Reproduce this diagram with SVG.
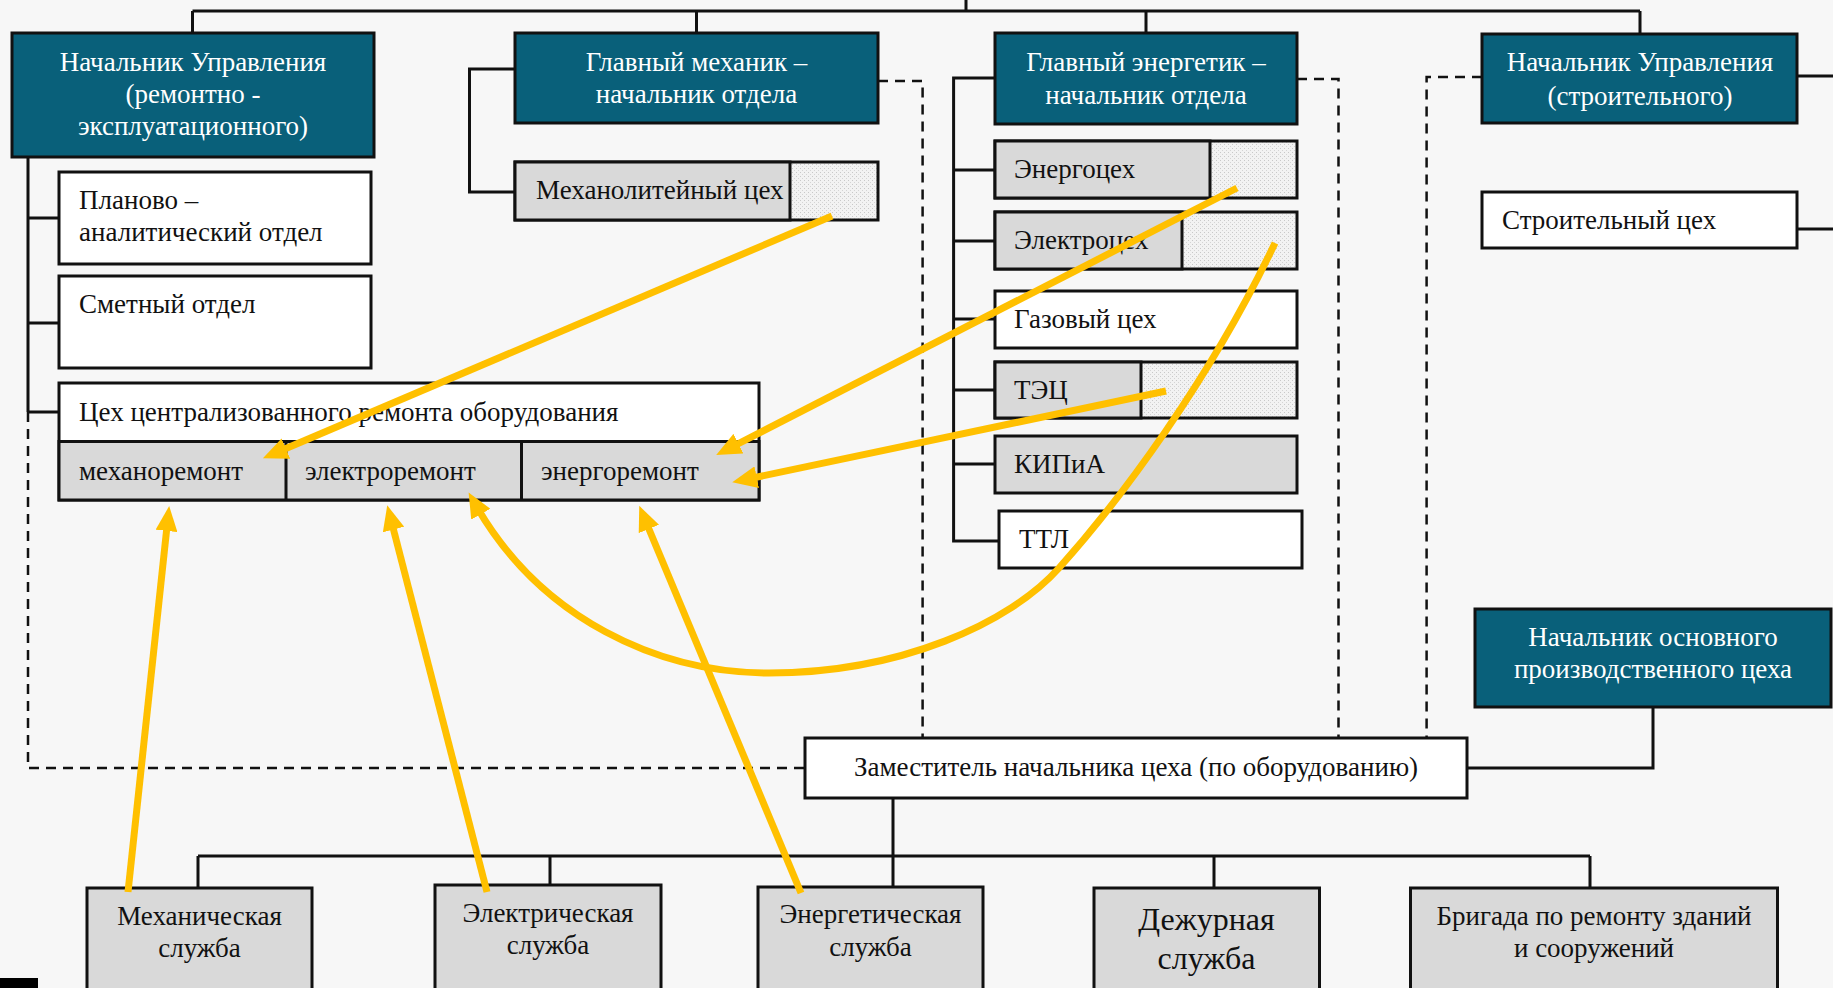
<svg xmlns="http://www.w3.org/2000/svg" width="1833" height="988" viewBox="0 0 1833 988">
<defs>
<style>
.ln{stroke:#111;stroke-width:3;fill:none}
.ds{stroke:#111;stroke-width:2.5;fill:none;stroke-dasharray:10 7}
.teal{fill:#09607A;stroke:#111;stroke-width:3}
.wh{fill:#fff;stroke:#111;stroke-width:3}
.gr{fill:#D9D9D9;stroke:#111;stroke-width:3}
.ht{fill:url(#hatch);stroke:#111;stroke-width:3}
.t{font-family:"Liberation Serif","Times New Roman",serif;font-size:27px;fill:#111}
.tw{font-family:"Liberation Serif","Times New Roman",serif;font-size:27px;fill:#fff;text-anchor:middle}
.tc{text-anchor:middle}
.ya{stroke:#FFC000;stroke-width:7;fill:none;marker-end:url(#ah)}
</style>
<pattern id="hatch" width="4" height="4" patternUnits="userSpaceOnUse">
<rect width="4" height="4" fill="#F2F2F2"/>
<rect x="0" y="0" width="1" height="1" fill="#C8C8C8"/>
<rect x="2" y="2" width="1" height="1" fill="#D4D4D4"/>
</pattern>
<marker id="ah" markerUnits="userSpaceOnUse" markerWidth="26" markerHeight="22" viewBox="0 0 26 22" refX="14" refY="11" orient="auto">
<path d="M0,0 L25,11 L0,22 z" fill="#FFC000"/>
</marker>
</defs>
<rect width="1833" height="988" fill="#F7F7F7"/>

<g id="connectors">
<path class="ln" d="M966,0 V11 M192.5,11 H1640 M192.5,11 V33 M696.5,11 V33 M1146,11 V33 M1640,11 V34"/>
<path class="ln" d="M28,157 V412 M28,218 H59 M28,323 H59 M28,412 H59"/>
<path class="ds" d="M28,412 V768 H805"/>
<path class="ln" d="M515,69 H469.5 V192 H515"/>
<path class="ds" d="M878,81 H922.6 V738"/>
<path class="ln" d="M995,78 H953.6 V541 H999 M953.6,170 H995 M953.6,241 H995 M953.6,319 H995 M953.6,390 H995 M953.6,464 H995"/>
<path class="ds" d="M1297,79 H1338.5 V738"/>
<path class="ds" d="M1482,77 H1426.6 V738"/>
<path class="ln" d="M1797,76 H1833 M1797,229 H1833"/>
<path class="ln" d="M1653,707 V768 H1467"/>
<path class="ln" d="M893,798 V887 M198,856 H1590 M198,856 V888 M550,856 V885 M1214,856 V888 M1590,856 V888"/>
</g>

<g id="n-nach-rem">
<rect class="teal" x="12" y="33" width="362" height="124"/>
<text class="tw" x="193" y="71">Начальник Управления</text>
<text class="tw" x="193" y="103">(ремонтно -</text>
<text class="tw" x="193" y="135">эксплуатационного)</text>
</g>
<g id="n-planovo">
<rect class="wh" x="59" y="172" width="312" height="92"/>
<text class="t" x="79" y="209">Планово –</text>
<text class="t" x="79" y="241">аналитический отдел</text>
</g>
<g id="n-smetny">
<rect class="wh" x="59" y="276" width="312" height="92"/>
<text class="t" x="79" y="313">Сметный отдел</text>
</g>
<g id="n-tsekh">
<rect class="wh" x="59" y="383" width="700" height="117"/>
<rect class="gr" x="59" y="441.5" width="700" height="58.5"/>
<path class="ln" d="M286,441.5 V500 M521.5,441.5 V500"/>
<text class="t" x="79" y="421">Цех централизованного ремонта оборудования</text>
<text class="t" x="79" y="480">механоремонт</text>
<text class="t" x="305" y="480">электроремонт</text>
<text class="t" x="541" y="480">энергоремонт</text>
</g>
<g id="n-glmeh">
<rect class="teal" x="515" y="33" width="363" height="90"/>
<text class="tw" x="696.5" y="71">Главный механик –</text>
<text class="tw" x="696.5" y="103">начальник отдела</text>
</g>
<g id="n-mehanolit">
<rect class="ht" x="515" y="162" width="363" height="58"/>
<rect class="gr" x="515" y="162" width="275" height="58"/>
<text class="t" x="536" y="199">Механолитейный цех</text>
</g>
<g id="n-glenerg">
<rect class="teal" x="995" y="33" width="302" height="91"/>
<text class="tw" x="1146" y="71">Главный энергетик –</text>
<text class="tw" x="1146" y="104">начальник отдела</text>
</g>
<g id="n-energotsekh">
<rect class="ht" x="995" y="141" width="302" height="57"/>
<rect class="gr" x="995" y="141" width="215" height="57"/>
<text class="t" x="1014" y="178">Энергоцех</text>
</g>
<g id="n-elektrotsekh">
<rect class="ht" x="995" y="212" width="302" height="57"/>
<rect class="gr" x="995" y="212" width="187" height="57"/>
<text class="t" x="1014" y="249">Электроцех</text>
</g>
<g id="n-gaz">
<rect class="wh" x="995" y="291" width="302" height="57"/>
<text class="t" x="1014" y="328">Газовый цех</text>
</g>
<g id="n-tets">
<rect class="ht" x="995" y="362" width="302" height="56"/>
<rect class="gr" x="995" y="362" width="146" height="56"/>
<text class="t" x="1014" y="399">ТЭЦ</text>
</g>
<g id="n-kip">
<rect class="gr" x="995" y="436" width="302" height="57"/>
<text class="t" x="1014" y="473">КИПиА</text>
</g>
<g id="n-ttl">
<rect class="wh" x="999" y="511" width="303" height="57"/>
<text class="t" x="1019" y="548">ТТЛ</text>
</g>
<g id="n-nach-str">
<rect class="teal" x="1482" y="34" width="315" height="89"/>
<text class="tw" x="1640" y="71">Начальник Управления</text>
<text class="tw" x="1640" y="105">(строительного)</text>
</g>
<g id="n-stroit">
<rect class="wh" x="1482" y="192" width="315" height="56"/>
<text class="t" x="1502" y="229">Строительный цех</text>
</g>
<g id="n-nach-osn">
<rect class="teal" x="1475" y="609" width="356" height="98"/>
<text class="tw" x="1653" y="646">Начальник основного</text>
<text class="tw" x="1653" y="678">производственного цеха</text>
</g>
<g id="n-zam">
<rect class="wh" x="805" y="738" width="662" height="60"/>
<text class="t tc" x="1136" y="776">Заместитель начальника цеха (по оборудованию)</text>
</g>
<g id="n-meh">
<rect class="gr" x="87" y="888" width="225" height="115"/>
<text class="t tc" x="199.5" y="925">Механическая</text>
<text class="t tc" x="199.5" y="957">служба</text>
</g>
<g id="n-el">
<rect class="gr" x="435" y="885" width="226" height="118"/>
<text class="t tc" x="548" y="922">Электрическая</text>
<text class="t tc" x="548" y="954">служба</text>
</g>
<g id="n-en">
<rect class="gr" x="758" y="887" width="225" height="116"/>
<text class="t tc" x="870.5" y="923">Энергетическая</text>
<text class="t tc" x="870.5" y="956">служба</text>
</g>
<g id="n-dezh">
<rect class="gr" x="1094" y="888" width="225.5" height="115"/>
<text class="t tc" x="1206.5" y="930" style="font-size:32px">Дежурная</text>
<text class="t tc" x="1206.5" y="969" style="font-size:32px">служба</text>
</g>
<g id="n-brig">
<rect class="gr" x="1410.5" y="888" width="367" height="115"/>
<text class="t tc" x="1594" y="925">Бригада по ремонту зданий</text>
<text class="t tc" x="1594" y="957">и сооружений</text>
</g>
<rect x="0" y="978" width="38" height="10" fill="#000"/>

<g id="arrows">
<path class="ya" d="M832,216 L273,454"/>
<path class="ya" d="M1237,188 L726,450"/>
<path class="ya" d="M1166,391 L743,480"/>
<path class="ya" d="M1275,243 C1210,380 1120,500 1059,568 C1010,623 900,673 769,673 C660,673 540,620 474,502"/>
<path class="ya" d="M128,892 L168,517"/>
<path class="ya" d="M487,892 L390,516"/>
<path class="ya" d="M801,893 L643.5,516"/>
</g>
</svg>
